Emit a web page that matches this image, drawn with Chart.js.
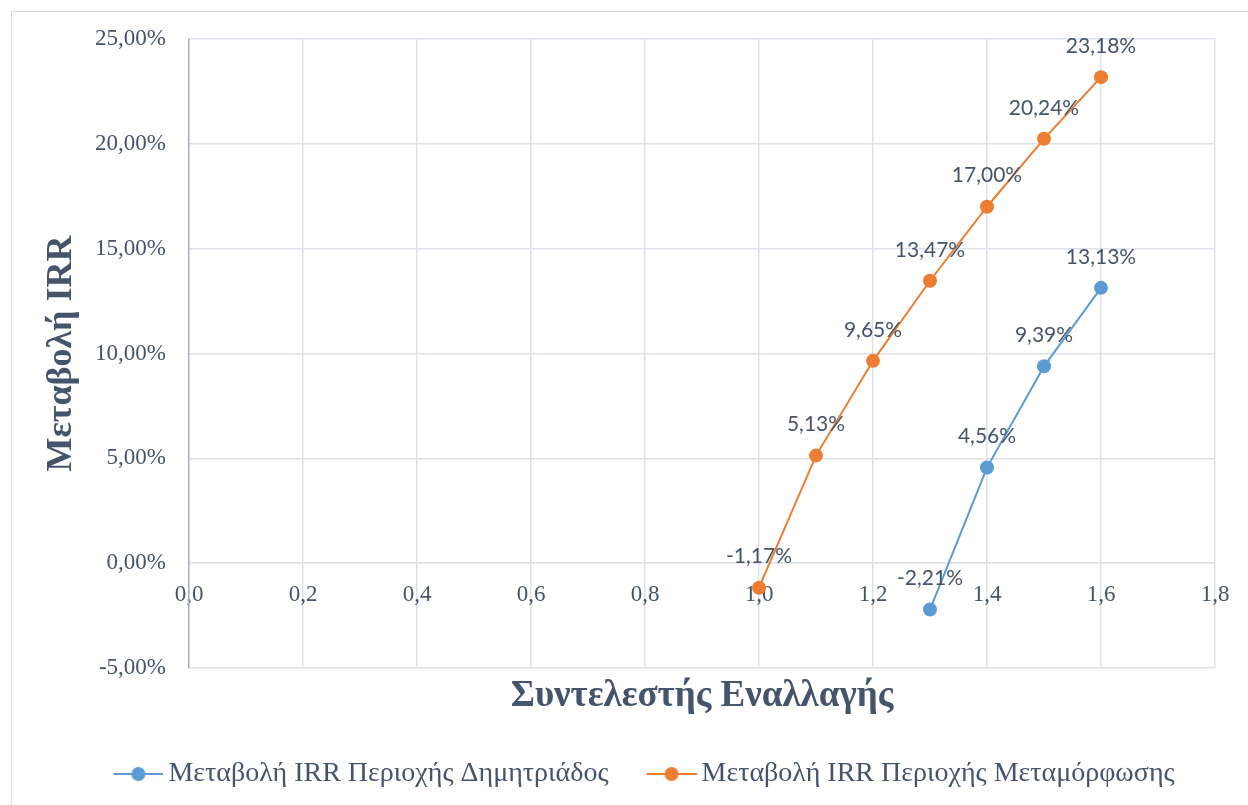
<!DOCTYPE html>
<html>
<head>
<meta charset="utf-8">
<script src="https://cdn.jsdelivr.net/npm/chart.js@4/dist/chart.umd.min.js"></script>
<style>
  html, body { margin: 0; padding: 0; background: #fff; }
  #wrap { width: 1248px; height: 805px; }
</style>
</head>
<body>
<div id="wrap"><canvas id="chart" width="1248" height="805"></canvas></div>
<script>
// συντελεστής εναλλαγής (x) και μεταβολή IRR σε % (y)
const xDimitriados = [1.3, 1.4, 1.5, 1.6];
const irrDimitriados = [-2.21, 4.56, 9.39, 13.13];
const xMetamorfosis = [1.0, 1.1, 1.2, 1.3, 1.4, 1.5, 1.6];
const irrMetamorfosis = [-1.17, 5.13, 9.65, 13.47, 17.00, 20.24, 23.18];
const seriesNames = ['Μεταβολή IRR Περιοχής Δημητριάδος', 'Μεταβολή IRR Περιοχής Μεταμόρφωσης'];
const xTitle = 'Συντελεστής Εναλλαγής';
const yTitle = 'Μεταβολή IRR';

const BLUE = '#5B9BD5';
const ORANGE = '#ED7D31';
const TEXT = '#44546A';
const GRID = '#DDE2EA';

const fmtPct = v => v.toFixed(2).replace('.', ',') + '%';
const fmtX = v => Number(v).toFixed(1).replace('.', ',');

function toPoints(xs, ys) {
  return xs.map((x, i) => ({ x: x, y: ys[i] }));
}

// γραμμή με κουκκίδα για το υπόμνημα (με κενό αριστερά για απόσταση μεταξύ στοιχείων)
function legendMarker(color) {
  const c = document.createElement('canvas');
  c.width = 87; c.height = 16;
  const g = c.getContext('2d');
  g.strokeStyle = color;
  g.lineWidth = 2;
  g.beginPath(); g.moveTo(37, 8); g.lineTo(87, 8); g.stroke();
  g.fillStyle = color;
  g.beginPath(); g.arc(62, 8, 7, 0, Math.PI * 2); g.fill();
  return c;
}

// ετικέτες τιμών πάνω από κάθε σημείο
const valueLabels = {
  id: 'valueLabels',
  afterDatasetsDraw(chart) {
    const ctx = chart.ctx;
    ctx.save();
    ctx.font = '21px Lato';
    ctx.fillStyle = TEXT;
    ctx.textAlign = 'center';
    ctx.textBaseline = 'middle';
    chart.data.datasets.forEach((ds, i) => {
      chart.getDatasetMeta(i).data.forEach((pt, j) => {
        ctx.fillText(fmtPct(ds.data[j].y), pt.x, pt.y - 31);
      });
    });
    ctx.restore();
  }
};

// φόντο και περίγραμμα περιοχής γραφήματος
const frame = {
  id: 'frame',
  beforeDraw(chart) {
    const ctx = chart.ctx;
    ctx.save();
    ctx.fillStyle = '#fff';
    ctx.fillRect(0, 0, chart.width, chart.height);
    ctx.strokeStyle = '#D9D9D9';
    ctx.lineWidth = 1;
    ctx.strokeRect(11.5, 11.5, 3000, 3000);
    ctx.restore();
  }
};

const ctx = document.getElementById('chart').getContext('2d');
new Chart(ctx, {
  type: 'scatter',
  data: {
    datasets: [
      {
        label: seriesNames[0],
        data: toPoints(xDimitriados, irrDimitriados),
        xAxisID: 'x', yAxisID: 'y',
        showLine: true,
        borderColor: BLUE, backgroundColor: BLUE,
        borderWidth: 2,
        pointRadius: 7, pointBorderWidth: 0,
        pointStyle: 'circle'
      },
      {
        label: seriesNames[1],
        data: toPoints(xMetamorfosis, irrMetamorfosis),
        xAxisID: 'x', yAxisID: 'y',
        showLine: true,
        borderColor: ORANGE, backgroundColor: ORANGE,
        borderWidth: 2,
        pointRadius: 7, pointBorderWidth: 0,
        pointStyle: 'circle'
      }
    ]
  },
  options: {
    responsive: false,
    animation: false,
    layout: { padding: { top: 39, left: 12, right: 0, bottom: 7 } },
    plugins: {
      tooltip: { enabled: false },
      legend: {
        position: 'bottom',
        labels: {
          usePointStyle: true,
          pointStyleWidth: 69,
          padding: 10,
          color: TEXT,
          font: { family: 'Liberation Serif', size: 28 },
          generateLabels(chart) {
            return chart.data.datasets.map((ds, i) => ({
              text: ds.label,
              pointStyle: legendMarker(ds.borderColor),
              fillStyle: ds.borderColor,
              strokeStyle: ds.borderColor,
              fontColor: TEXT,
              lineWidth: 0,
              datasetIndex: i,
              hidden: false
            }));
          }
        }
      }
    },
    scales: {
      x: {
        type: 'linear',
        position: { y: 0 },
        min: 0, max: 1.8,
        grid: { color: GRID, lineWidth: 1.5, drawTicks: false },
        border: { color: GRID, width: 1.5 },
        ticks: {
          stepSize: 0.2,
          padding: 18,
          color: TEXT,
          font: { family: 'Liberation Serif', size: 23 },
          maxRotation: 0,
          callback: v => fmtX(v)
        }
      },
      // κάτω άξονας μόνο για τον τίτλο
      x2: {
        type: 'linear',
        position: 'bottom',
        grid: { display: false },
        border: { display: false },
        ticks: { display: false },
        title: {
          display: true,
          text: xTitle,
          color: TEXT,
          padding: { top: 0, bottom: 31 },
          font: { family: 'Liberation Serif', size: 37, weight: 'bold' }
        },
        afterFit(s) { s.height = 82; }
      },
      y: {
        type: 'linear',
        position: 'left',
        min: -5, max: 25,
        grid: { color: GRID, lineWidth: 1.5, drawTicks: false },
        border: { color: '#A9B3C1', width: 1.5 },
        ticks: {
          stepSize: 5,
          padding: 23,
          color: TEXT,
          font: { family: 'Liberation Serif', size: 23 },
          callback: v => fmtPct(v)
        },
        title: {
          display: true,
          text: yTitle,
          color: TEXT,
          padding: { top: 28, bottom: 0 },
          font: { family: 'Liberation Serif', size: 36, weight: 'bold' }
        },
        afterFit(s) { s.width = 177; }
      },
      // δεξί περιθώριο
      y2: {
        type: 'linear',
        position: 'right',
        grid: { display: false },
        border: { display: false },
        ticks: { display: false },
        afterFit(s) { s.width = 33; }
      }
    }
  },
  plugins: [frame, valueLabels]
});
</script>
</body>
</html>
